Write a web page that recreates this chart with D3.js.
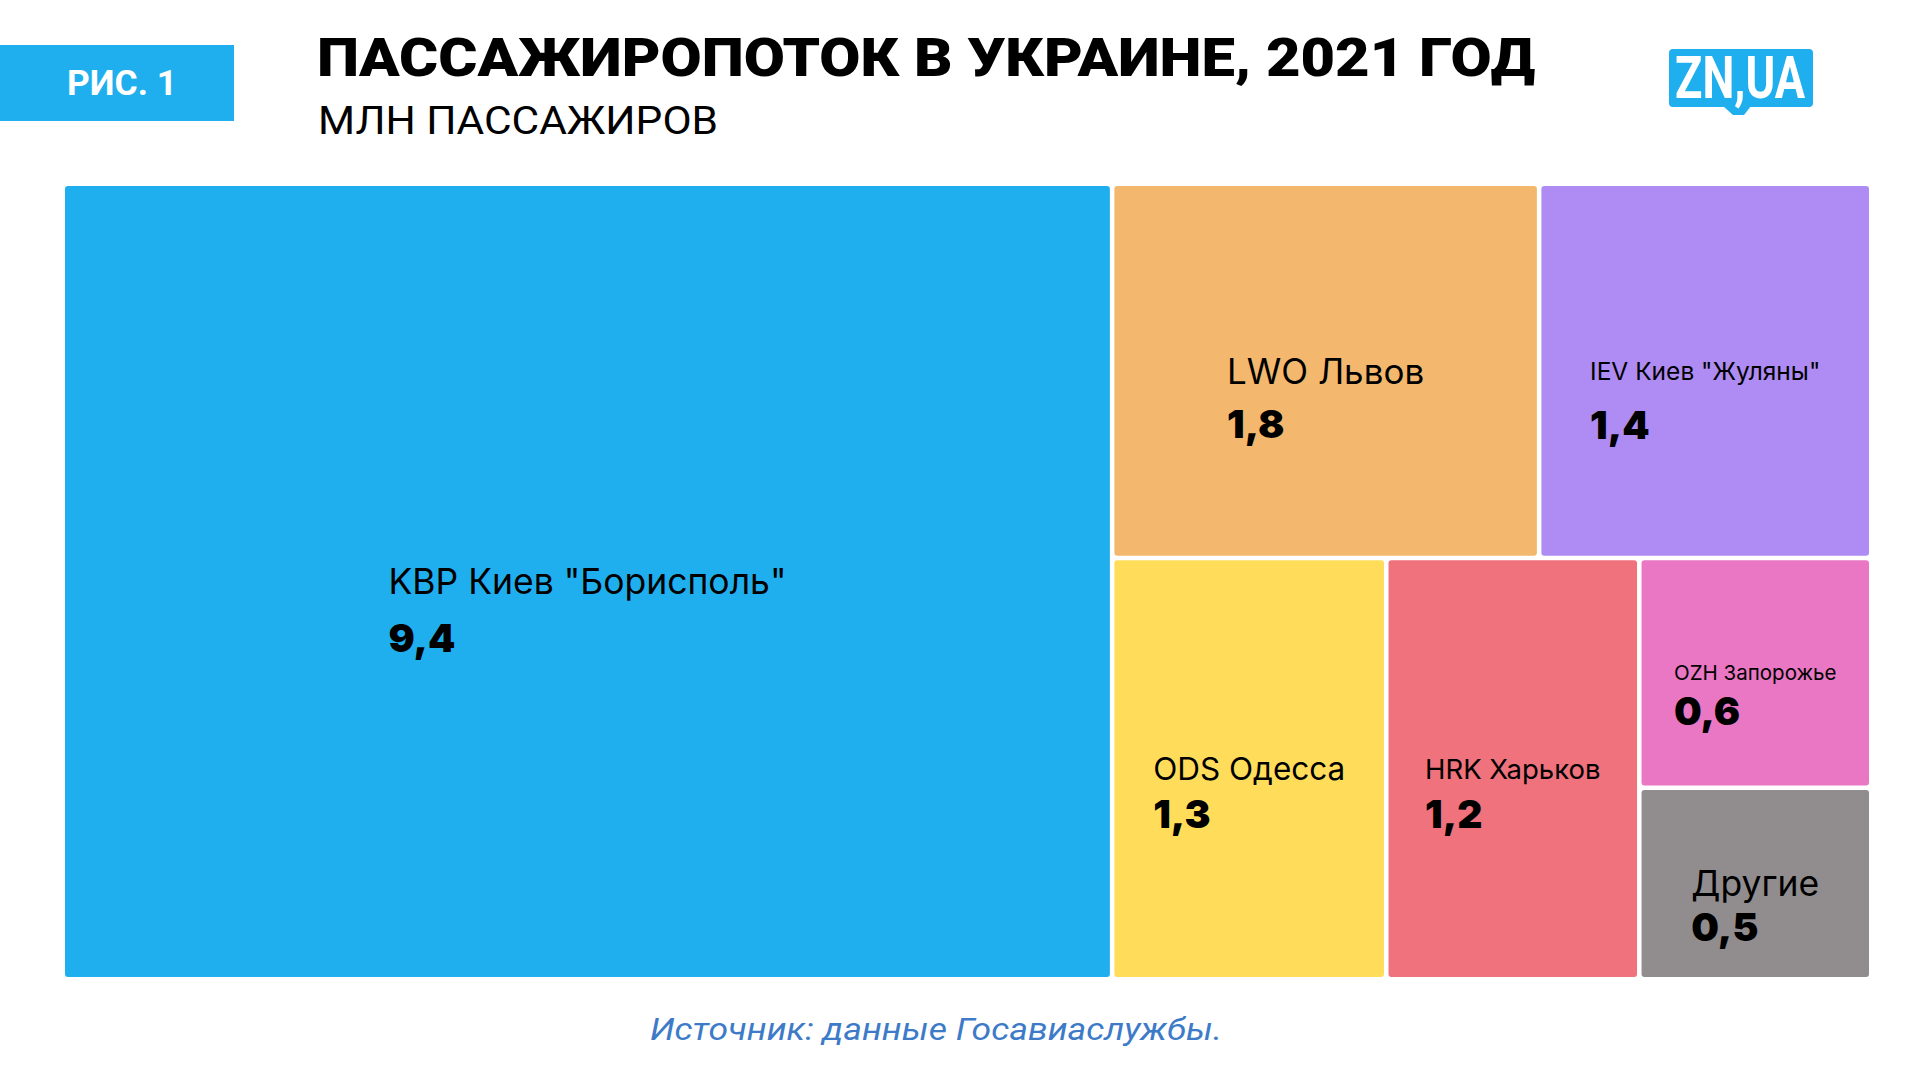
<!DOCTYPE html>
<html><head><meta charset="utf-8">
<script src="https://cdn.jsdelivr.net/npm/d3@7"></script>
<style>html,body{margin:0;padding:0;background:#fff;} svg{display:block}</style>
</head><body>
<svg id="chart" width="1920" height="1080"></svg>
<script>
// ---- data ----
const codes  = ["KBP", "LWO", "IEV", "ODS", "HRK", "OZH", ""];
const cities = ["Киев \"Борисполь\"", "Львов", "Киев \"Жуляны\"", "Одесса", "Харьков", "Запорожье", "Другие"];
const values = [9.4, 1.8, 1.4, 1.3, 1.2, 0.6, 0.5];
const titleText = "ПАССАЖИРОПОТОК В УКРАИНЕ, 2021 ГОД";
const subtitleText = "МЛН ПАССАЖИРОВ";
const figText = "РИС. 1";
const sourceText = "Источник: данные Госавиаслужбы.";

// ---- styles ----
const tileColors = ["#20AFEE", "#F3B86D", "#AF8CF3", "#FFDD5B", "#EF727C", "#E977C3", "#918D8E"];
const labelSizes = [35.5, 35, 24.5, 31.5, 27.5, 20.5, 35.5];
const valueGaps  = [58, 54, 59, 48, 49, 45, 45];
const BLUE = "#20AFEE";

const svg = d3.select("#chart");
const ru = d3.formatLocale({decimal: ",", thousands: " ", grouping: [3], currency: ["", ""]});
const fmt = ru.format(".1f");

// header
svg.append("rect").attr("x", 0).attr("y", 45).attr("width", 234).attr("height", 76).attr("fill", BLUE);
svg.append("text").text(figText).attr("x", 122).attr("y", 95).attr("text-anchor", "middle")
  .attr("font-family", "Roboto").attr("font-weight", 700).attr("font-size", 35).attr("fill", "#fff")
  .attr("textLength", 110).attr("lengthAdjust", "spacingAndGlyphs");

svg.append("text").text(titleText).attr("x", 317).attr("y", 76)
  .attr("font-family", "Roboto").attr("font-weight", 900).attr("font-size", 54).attr("fill", "#000")
  .attr("textLength", 1218).attr("lengthAdjust", "spacingAndGlyphs");
svg.append("text").text(subtitleText).attr("x", 318).attr("y", 134)
  .attr("font-family", "Roboto").attr("font-weight", 400).attr("font-size", 39).attr("fill", "#000")
  .attr("textLength", 400).attr("lengthAdjust", "spacingAndGlyphs");

// logo
const logo = svg.append("g");
logo.append("rect").attr("x", 1669).attr("y", 49).attr("width", 144).attr("height", 58).attr("rx", 4).attr("fill", BLUE);
logo.append("path").attr("d", "M1723,106 L1751,106 L1744,115 L1733,115 Z").attr("fill", BLUE);
logo.append("text").text("ZN,UA").attr("x", 1675).attr("y", 98)
  .attr("font-family", "Roboto").attr("font-weight", 700).attr("font-size", 60).attr("fill", "#fff")
  .attr("textLength", 130).attr("lengthAdjust", "spacingAndGlyphs");

// treemap
const X0 = 65, Y0 = 186, W = 1804, H = 791;
const leaves = values.map((v, i) => ({i, code: codes[i], city: cities[i], value: v}));
const root = d3.hierarchy({children: leaves}).sum(d => d.value || 0).sort((a, b) => b.value - a.value);
d3.treemap().tile(d3.treemapSquarify.ratio(1)).size([W, H]).paddingInner(4.5).paddingOuter(0)(root);

const g = svg.append("g").attr("transform", `translate(${X0},${Y0})`);
const cell = g.selectAll("g.cell").data(root.leaves()).join("g").attr("class", "cell");
cell.append("rect")
  .attr("x", d => d.x0).attr("y", d => d.y0)
  .attr("width", d => d.x1 - d.x0).attr("height", d => d.y1 - d.y0)
  .attr("rx", 3).attr("fill", d => tileColors[d.data.i]);

cell.each(function(d) {
  const i = d.data.i;
  const cx = (d.x0 + d.x1) / 2, cy = (d.y0 + d.y1) / 2;
  const fs = labelSizes[i];
  const base = cy + fs * 0.36;
  const name = d.data.code ? d.data.code + " " + d.data.city : d.data.city;
  const t = d3.select(this).append("text").text(name)
    .attr("x", cx).attr("y", base).attr("text-anchor", "middle")
    .attr("font-family", "Inter").attr("font-weight", 400).attr("font-size", fs).attr("fill", "#000");
  const w = t.node().getComputedTextLength();
  d3.select(this).append("text").text(fmt(d.data.value))
    .attr("x", cx - w / 2).attr("y", base + valueGaps[i])
    .attr("font-family", "Inter").attr("font-weight", 900).attr("font-size", 39).attr("fill", "#000");
});

// source
svg.append("text").text(sourceText).attr("x", 936).attr("y", 1040).attr("text-anchor", "middle")
  .attr("font-family", "Roboto").attr("font-style", "italic").attr("font-weight", 400)
  .attr("font-size", 32).attr("fill", "#3D7BC8")
  .attr("textLength", 572).attr("lengthAdjust", "spacingAndGlyphs");
</script>
</body></html>
